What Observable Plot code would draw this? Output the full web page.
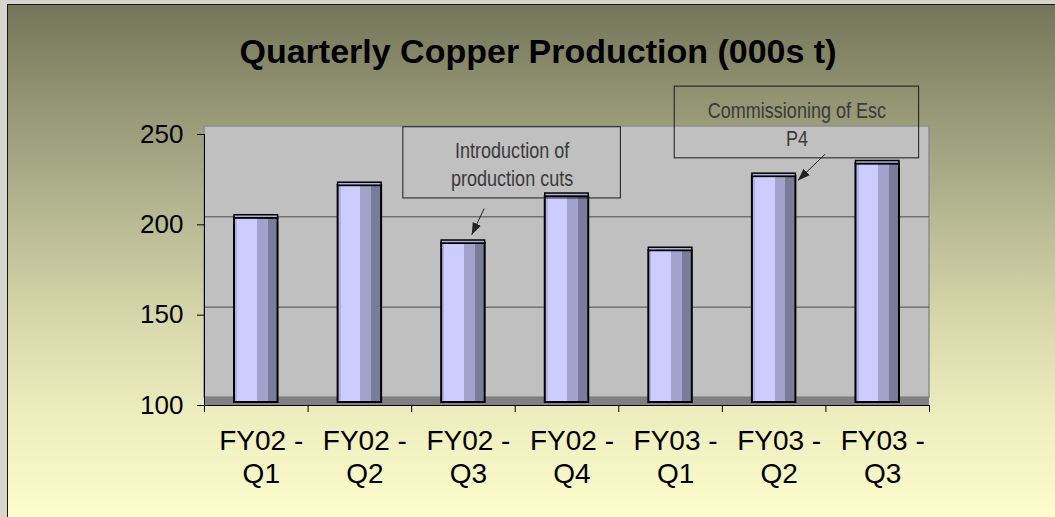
<!DOCTYPE html>
<html>
<head>
<meta charset="utf-8">
<script src="https://cdn.jsdelivr.net/npm/d3@7"></script>
<script src="https://cdn.jsdelivr.net/npm/@observablehq/plot@0.6"></script>
<style>
  body { margin: 0; background: #d6d6ce; }
  #wrap { position: relative; width: 1055px; height: 517px; overflow: hidden; background: #d6d6ce; font-family: "Liberation Sans", Arial, sans-serif; }
  #frame { position: absolute; left: 7px; top: 4px; width: 1100px; height: 560px;
    border-left: 1.5px solid #1a1a1a; border-top: 1.5px solid #1a1a1a;
    background: linear-gradient(to bottom, #74765a 0px, #9a9c7a 120px, #b6b892 210px, #d6d6aa 310px, #ededbe 410px, #fcfccc 513px); }
  #title { position: absolute; left: 0; width: 1076px; top: 34px; text-align: center; font-weight: bold; font-size: 34px; line-height: 34px; color: #000; white-space: nowrap; }
  #chart { position: absolute; left: 0; top: 0; }
</style>
</head>
<body>
<div id="wrap">
  <div id="frame"></div>
  <div id="title"></div>
  <div id="chart"></div>
</div>
<script>
// ---- data ----
const chartTitle = "Quarterly Copper Production (000s t)";
const categories = ["FY02 - Q1", "FY02 - Q2", "FY02 - Q3", "FY02 - Q4", "FY03 - Q1", "FY03 - Q2", "FY03 - Q3"];
const tickLabels = ["FY02 -\nQ1", "FY02 -\nQ2", "FY02 -\nQ3", "FY02 -\nQ4", "FY03 -\nQ1", "FY03 -\nQ2", "FY03 -\nQ3"];
const production = [202, 220, 188, 214, 184, 225, 232];
const yTicks = [100, 150, 200, 250];
const gridValues = [150, 200];

// annotations (in data units: x = category index, y = production value)
const noteText = ["Introduction of\nproduction cuts", "Commissioning of Esc\nP4"];
const noteBoxX1 = [1.42, 4.04];
const noteBoxX2 = [3.52, 6.40];
const noteBoxTop = [254, 276.5];
const noteBoxBottom = [214.6, 236.8];
const noteTextX = [2.47, 5.22];
const noteTextY = [234.0, 256.3];
const arrowFromX = [2.20, 5.49];
const arrowFromY = [209, 239];
const arrowToX = [2.08, 5.23];
const arrowToY = [194.5, 224.6];

// ---- build ----
document.getElementById("title").textContent = chartTitle;

const n = categories.length;
const xDomain = [-0.5, n - 0.5];
const boundaries = d3.range(n + 1).map(k => k - 0.5);
const halfBar = 0.21;
const bars = categories.map((c, i) => ({i, category: c, value: production[i], label: tickLabels[i]}));
const notes = noteText.map((t, k) => ({
  text: t, x1: noteBoxX1[k], x2: noteBoxX2[k], y1: noteBoxBottom[k], y2: noteBoxTop[k],
  tx: noteTextX[k], ty: noteTextY[k],
  ax1: arrowFromX[k], ay1: arrowFromY[k], ax2: arrowToX[k], ay2: arrowToY[k]
}));

const plot = Plot.plot({
  width: 1055,
  height: 517,
  marginLeft: 204,
  marginRight: 126,
  marginTop: 134,
  marginBottom: 112,
  style: {background: "transparent", color: "#000", fontFamily: "'Liberation Sans', Arial, sans-serif", overflow: "visible"},
  x: {domain: xDomain},
  y: {domain: [100, 250]},
  marks: [
    // back wall
    Plot.rect([0], {x1: xDomain[0], x2: xDomain[1], y1: 100, y2: 250, dy: -8, fill: "#c0c0c0", stroke: "#8c8c8c", strokeWidth: 1.5}),
    // floor
    Plot.rect([0], {x1: xDomain[0], x2: xDomain[1], y1: 100, y2: 100, insetTop: -8, fill: "#808080"}),
    // gridlines on the back wall
    Plot.ruleY(gridValues, {dy: -8, stroke: "#4a4a4a", strokeWidth: 1}),
    // axis lines
    Plot.ruleX([xDomain[0]], {y1: 100, y2: 250, stroke: "#000", strokeWidth: 1}),
    Plot.ruleY([100], {stroke: "#000", strokeWidth: 1}),
    // y axis
    Plot.axisY({ticks: yTicks, tickSize: 7, tickPadding: 14, fontSize: 26, tickFormat: d => String(d)}),
    // x ticks at category boundaries
    Plot.axisX({ticks: boundaries, tickSize: 7, tickFormat: () => ""}),
    // bars (cylinders)
    Plot.rect(bars, {x1: d => d.i - halfBar, x2: d => d.i + halfBar, y1: 100, y2: "value", dy: -3,
      fill: "url(#cyl)", stroke: "#000", strokeWidth: 2}),
    Plot.rect(bars, {x1: d => d.i - halfBar, x2: d => d.i + halfBar, y1: "value", y2: "value", insetTop: -3, dy: -3,
      fill: "#b2b2e0", stroke: "#000", strokeWidth: 1.5}),
    // category labels
    Plot.text(bars, {x: "i", y: 100, text: "label", lineAnchor: "top", dy: 22, dx: 5, fontSize: 28, lineHeight: 1.15, fill: "#000"}),
    // annotation boxes
    Plot.rect(notes, {x1: "x1", x2: "x2", y1: "y1", y2: "y2", fill: "none", stroke: "#1a1a1a", strokeWidth: 1}),
    Plot.text(notes, {x: "tx", y: "ty", text: "text", fontSize: 22, lineHeight: 1.25, fill: "#3a3a3a"}),
    Plot.link(notes, {x1: "ax1", y1: "ay1", x2: "ax2", y2: "ay2", stroke: "#222", strokeWidth: 1, markerEnd: "arrow"})
  ]
});

// cylinder shading gradient
const svg = d3.select(plot);
const defs = svg.insert("defs", ":first-child");
const grad = defs.append("linearGradient").attr("id", "cyl").attr("x1", 0).attr("x2", 1).attr("y1", 0).attr("y2", 0);
[[0, "#b2b2e6"], [0.07, "#b2b2e6"], [0.07, "#ccccff"], [0.52, "#ccccff"], [0.52, "#a2a2cc"], [0.77, "#a2a2cc"], [0.77, "#7b7b9c"], [1, "#7b7b9c"]]
  .forEach(([o, c]) => grad.append("stop").attr("offset", o).attr("stop-color", c));

// narrow (condensed) annotation text, like Arial Narrow
const textGroups = svg.selectAll('g[aria-label="text"]').nodes();
d3.select(textGroups[textGroups.length - 1]).selectAll("text").each(function() {
  const t = this.getAttribute("transform") || "";
  this.setAttribute("transform", t + " scale(0.82,1)");
});

// filled arrow heads
svg.selectAll("marker")
  .attr("viewBox", "-12 -6 12 12")
  .attr("markerWidth", 12)
  .attr("markerHeight", 12)
  .attr("fill", "#222")
  .attr("stroke", "none")
  .select("path").attr("d", "M-12,-4.5L0,0L-12,4.5Z");

document.getElementById("chart").appendChild(plot);
</script>
</body>
</html>
